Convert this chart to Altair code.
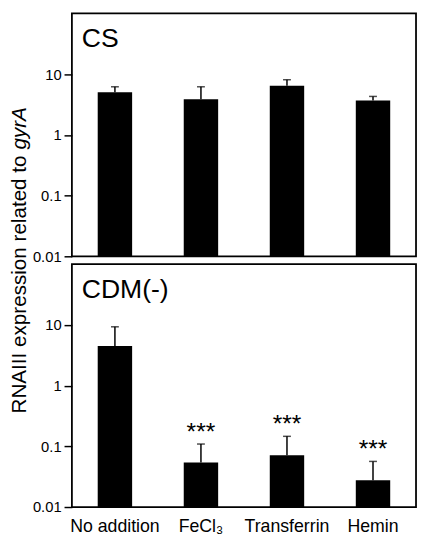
import altair as alt
import pandas as pd

categories = ["No addition", "FeCl\u2083", "Transferrin", "Hemin"]
cs_mean = [5.05, 3.87, 6.45, 3.68]
cs_err = [6.2, 6.2, 8.1, 4.3]
cdm_mean = [4.47, 0.054, 0.071, 0.0275]
cdm_err = [9.3, 0.109, 0.146, 0.0564]
cdm_sig = ["", "***", "***", "***"]
cs_sig = ["", "", "", ""]
panel_names = ["CS", "CDM(-)"]
y_ticks = [0.01, 0.1, 1, 10]
y_title_main = "RNAIII expression related to "
y_title_italic = "gyrA"

FONT = "Liberation Sans"
W, H = 350, 247


def panel(name, mean, err, sig, show_x):
    df = pd.DataFrame({"cat": categories, "mean": mean, "err": err, "sig": sig,
                       "base": [0.01] * len(categories)})
    x = alt.X("cat:N", sort=categories,
              scale=alt.Scale(paddingInner=0.6, paddingOuter=0.3),
              axis=alt.Axis(title=None, labels=show_x, ticks=False, tickSize=0,
                            domain=False, labelAngle=0, labelFontSize=18,
                            labelBaseline="alphabetic", labelPadding=25,
                            labelFont=FONT, labelColor="black"))
    yscale = alt.Scale(type="log", domain=[0.01, 100])
    y = alt.Y("mean:Q", scale=yscale,
              axis=alt.Axis(title=None, values=y_ticks, format="~g", grid=False,
                            domain=False, tickSize=8, tickWidth=1.5, tickColor="black",
                            labelFontSize=15, labelFont=FONT, labelColor="black",
                            labelPadding=3))
    base = alt.Chart(df)
    bars = base.mark_bar(color="black").encode(x=x, y=y, y2="base:Q")
    rule = base.mark_rule(color="black", strokeWidth=1.5).encode(
        x=alt.X("cat:N", sort=categories), y="mean:Q", y2="err:Q")
    cap = base.mark_tick(color="black", size=8, thickness=1.5).encode(
        x=alt.X("cat:N", sort=categories), y="err:Q")
    stars = base.mark_text(fontSize=25, font=FONT, baseline="alphabetic", dy=-4,
                           color="black").encode(
        x=alt.X("cat:N", sort=categories), y="err:Q", text="sig:N")
    label = alt.Chart(pd.DataFrame({"t": [name]})).mark_text(
        fontSize=27, font=FONT, align="left", baseline="alphabetic", color="black"
    ).encode(x=alt.value(10), y=alt.value(34), text="t:N")
    layers = [bars, rule, cap, stars, label]
    if show_x:
        tdf = pd.DataFrame({"a": [y_title_main], "b": [y_title_italic]})
        t1 = alt.Chart(tdf).mark_text(fontSize=21, font=FONT, angle=270, align="left",
                                      baseline="alphabetic", color="black").encode(
            x=alt.value(-47), y=alt.value(151.8), text="a:N")
        t2 = alt.Chart(tdf).mark_text(fontSize=21, font=FONT, angle=270, align="left",
                                      baseline="alphabetic", fontStyle="italic",
                                      color="black").encode(
            x=alt.value(-47), y=alt.value(151.8 - 268.4), text="b:N")
        layers += [t1, t2]
    return alt.layer(*layers).properties(width=W, height=H)


top = panel(panel_names[0], cs_mean, cs_err, cs_sig, False)
bottom = panel(panel_names[1], cdm_mean, cdm_err, cdm_sig, True)

chart = alt.vconcat(top, bottom, spacing=8, bounds="flush").properties(
    padding={"left": 0, "top": 0, "right": 0, "bottom": 0},
    background="white",
).configure_view(stroke="black", strokeWidth=1.8)

chart.save("out.html", embed_options={"renderer": "svg", "actions": False})
